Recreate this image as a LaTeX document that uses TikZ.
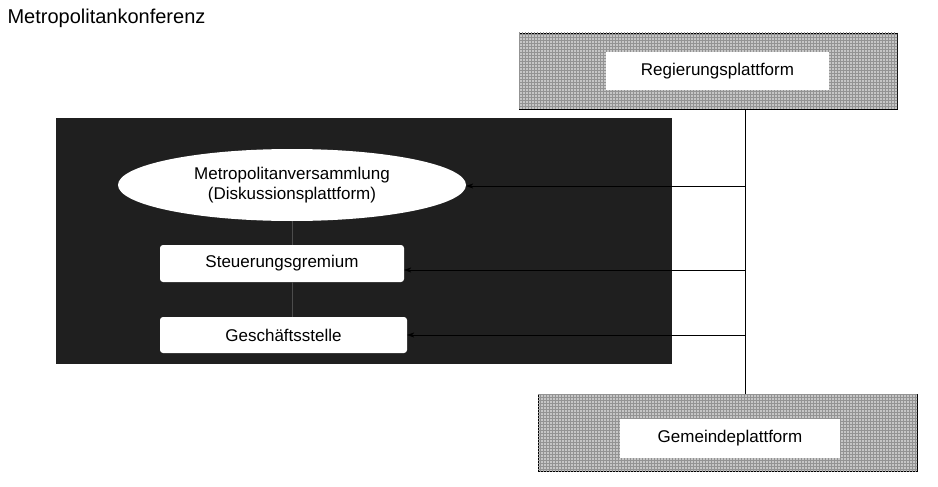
\documentclass[tikz,border=0pt]{standalone}
\usepackage{fontspec}
\setmainfont{Liberation Sans}
\usetikzlibrary{patterns,shapes.geometric,arrows.meta}
\begin{document}
\begin{tikzpicture}[x=1pt,y=-1pt,
  plat/.style={draw=black,fill=gray!45,postaction={pattern=grid,pattern color=gray!85}},
  wbox/.style={draw=none,fill=white,font=\fontsize{17}{20}\selectfont},
  rbox/.style={draw=none,fill=white,rounded corners=3pt,font=\fontsize{17}{20}\selectfont},
  arr/.style={-{Stealth[length=7pt,width=5pt]},black}]
\useasboundingbox (0,0) rectangle (938,487);
\node[anchor=west,font=\fontsize{20}{24}\selectfont] (title) at (4,18) {Metropolitankonferenz};
\path[plat] (519,33) rectangle (897,109);
\node[wbox,minimum width=223pt,minimum height=38pt] (reg) at (717.5,71) {Regierungsplattform};
\path[plat] (538,394) rectangle (917,471);
\node[wbox,minimum width=220pt,minimum height=39pt] (gem) at (730,438.5) {Gemeindeplattform};
\fill[black!88] (56,118) rectangle (672,364);
\node[ellipse,fill=white,minimum width=348pt,minimum height=72pt,align=center,font=\fontsize{17}{20}\selectfont,inner sep=0pt] (mv) at (292,185) {Metropolitanversammlung\\(Diskussionsplattform)};
\node[rbox,minimum width=244pt,minimum height=37pt] (st) at (282,263.5) {Steuerungsgremium};
\node[rbox,minimum width=247pt,minimum height=36pt] (gs) at (283.5,335) {Geschäftsstelle};
\draw[gray!60!black] (mv.south) -- (mv.south |- st.north);
\draw[gray!60!black] (mv.south |- st.south) -- (mv.south |- gs.north);
\coordinate (top) at (745,109);
\coordinate (bot) at (745,394);
\draw (top) -- (bot);
\coordinate (a1) at (745,186);
\coordinate (a2) at (745,270);
\coordinate (a3) at (745,335);
\draw[arr] (a1) -- (mv.east |- a1);
\draw[arr] (a2) -- (st.east |- a2);
\draw[arr] (a3) -- (gs.east |- a3);
\end{tikzpicture}
\end{document}
